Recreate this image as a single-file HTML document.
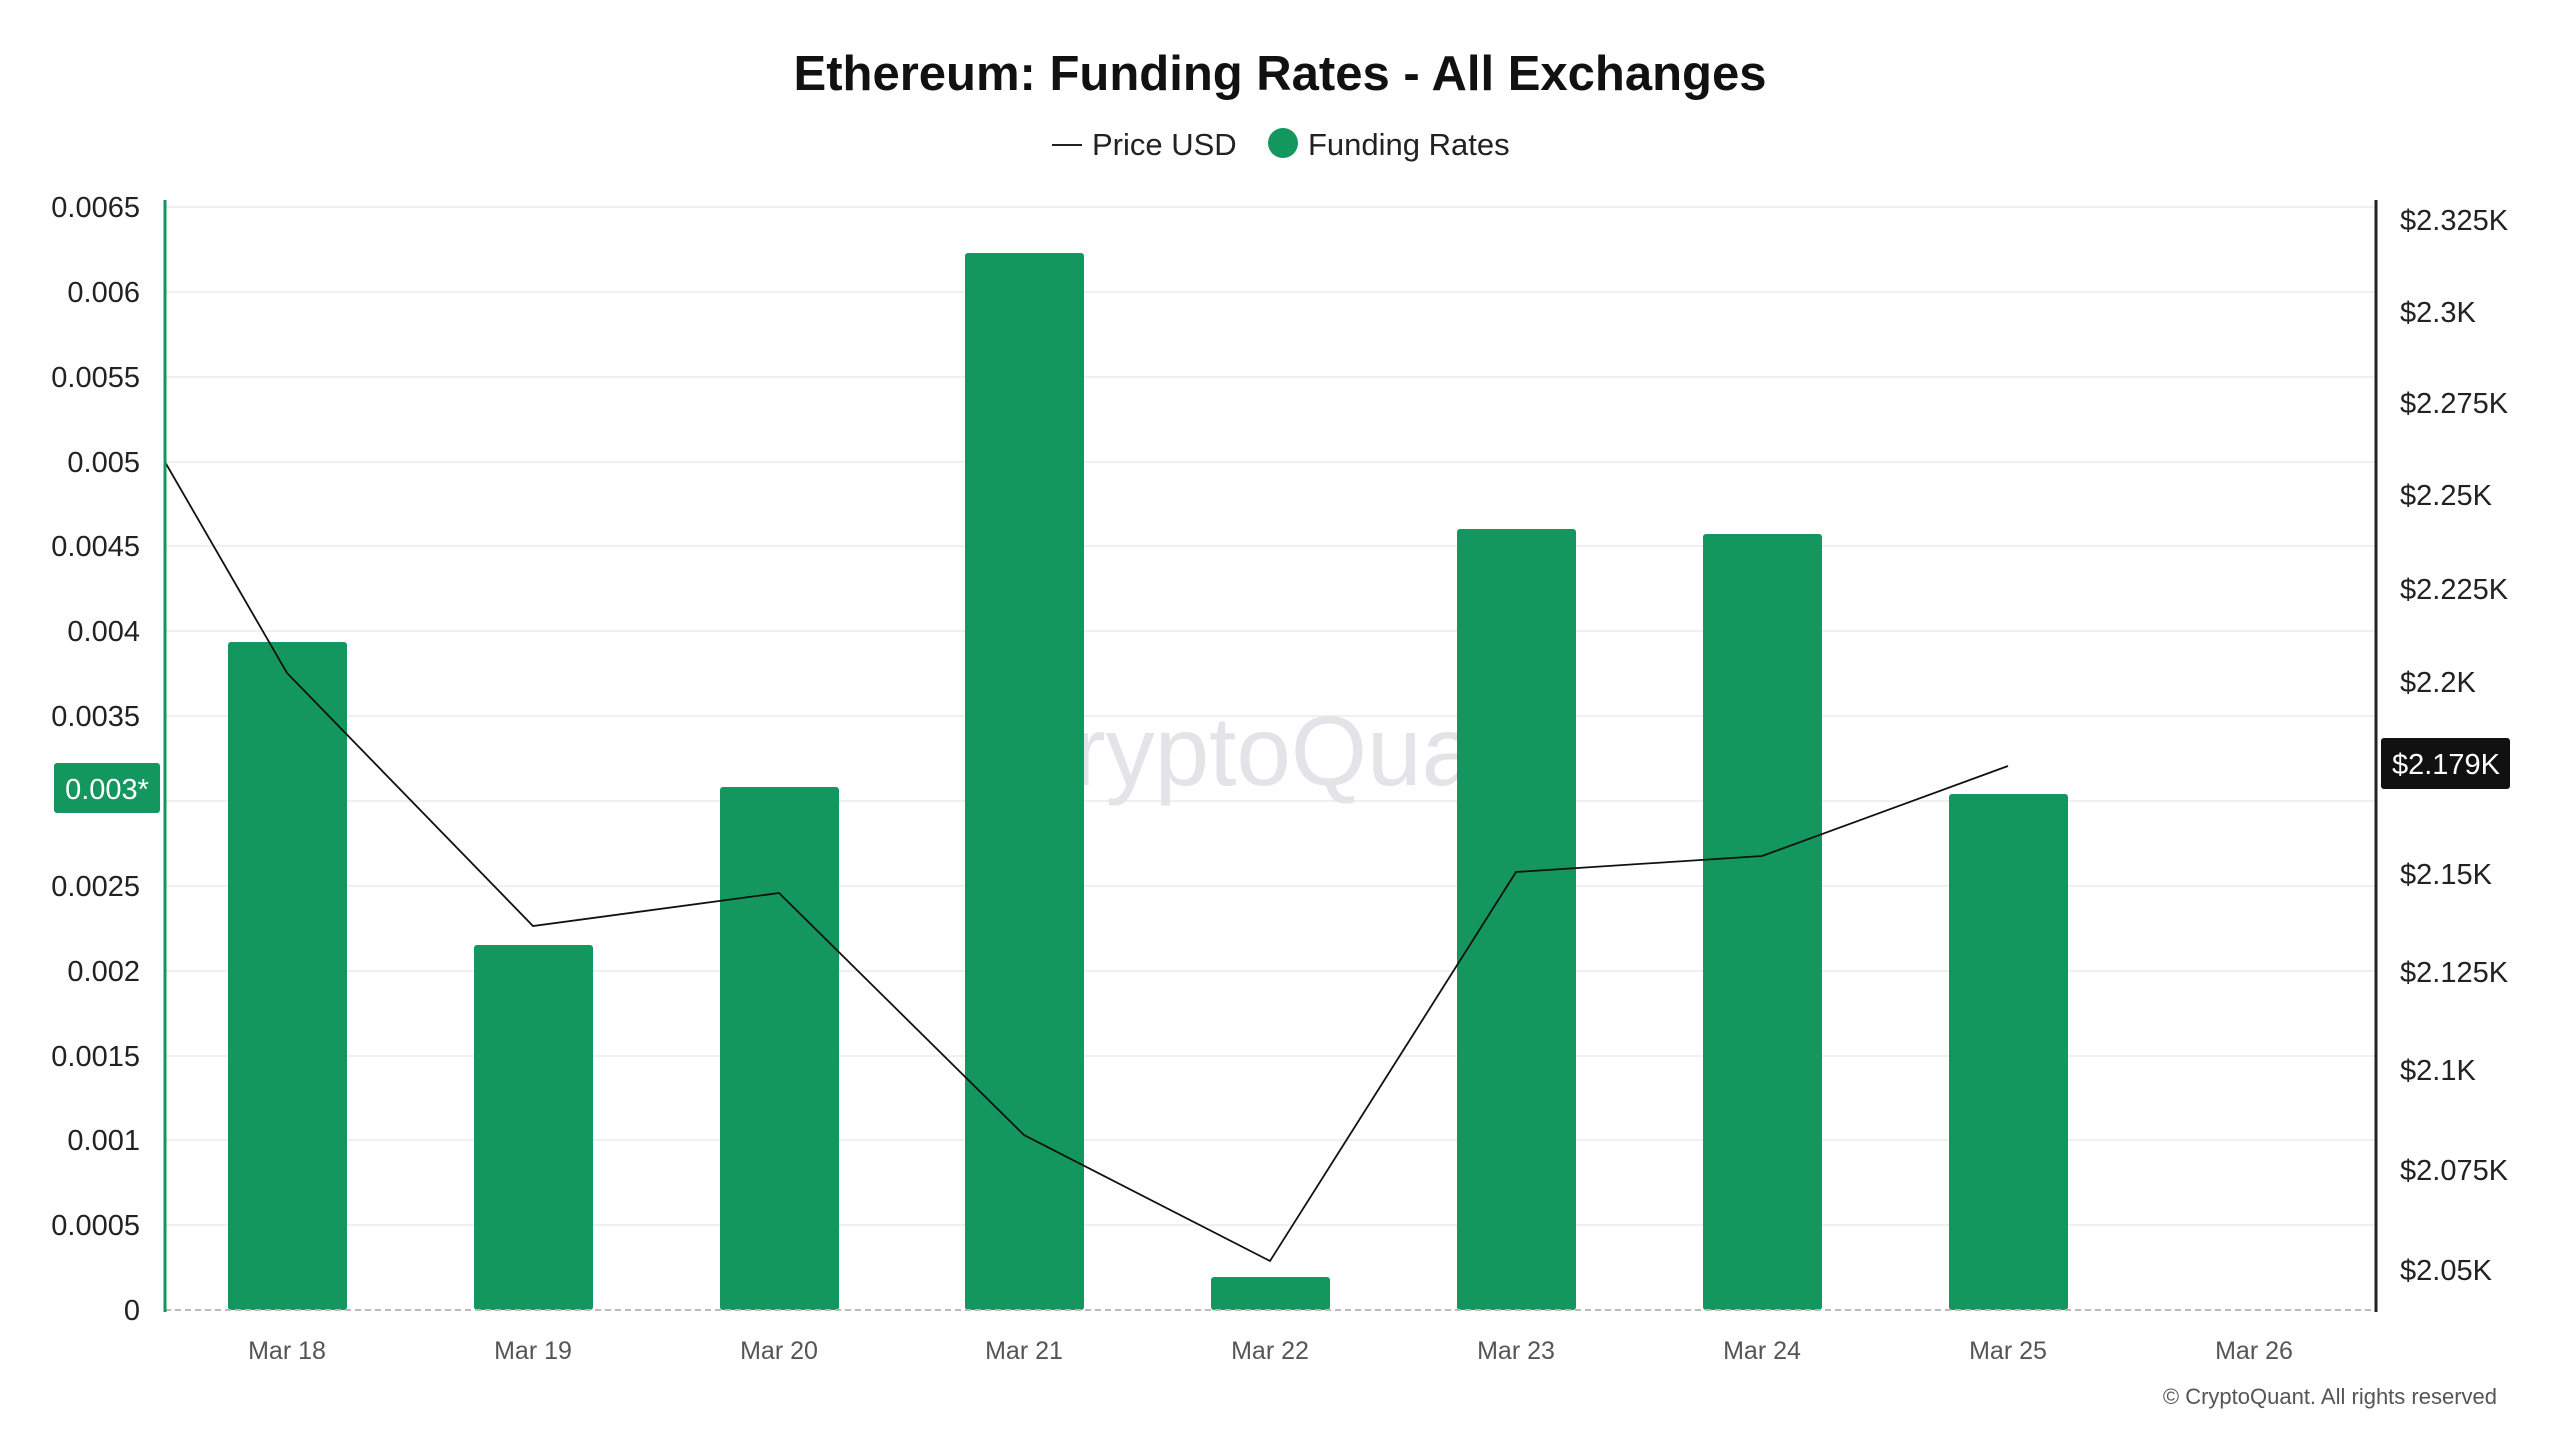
<!DOCTYPE html>
<html><head><meta charset="utf-8"><style>
html,body{margin:0;padding:0;background:#fff;}
svg{display:block;font-family:"Liberation Sans",sans-serif;}
</style></head><body>
<svg width="2560" height="1440" viewBox="0 0 2560 1440" xmlns="http://www.w3.org/2000/svg">
<rect width="2560" height="1440" fill="#fff"/>
<text x="1280" y="90" text-anchor="middle" font-size="49" font-weight="bold" fill="#111">Ethereum: Funding Rates - All Exchanges</text>
<line x1="1052" y1="145" x2="1082" y2="145" stroke="#222" stroke-width="2"/>
<text x="1092" y="155" font-size="31" fill="#222">Price USD</text>
<circle cx="1283" cy="143" r="15" fill="#14975e"/>
<text x="1308" y="155" font-size="31" fill="#222">Funding Rates</text>
<g stroke="#f0f0f0" stroke-width="2">
<line x1="165" x2="2376" y1="207" y2="207"/><line x1="165" x2="2376" y1="292" y2="292"/><line x1="165" x2="2376" y1="377" y2="377"/><line x1="165" x2="2376" y1="462" y2="462"/><line x1="165" x2="2376" y1="546" y2="546"/><line x1="165" x2="2376" y1="631" y2="631"/><line x1="165" x2="2376" y1="716" y2="716"/><line x1="165" x2="2376" y1="801" y2="801"/><line x1="165" x2="2376" y1="886" y2="886"/><line x1="165" x2="2376" y1="971" y2="971"/><line x1="165" x2="2376" y1="1056" y2="1056"/><line x1="165" x2="2376" y1="1140" y2="1140"/><line x1="165" x2="2376" y1="1225" y2="1225"/>
</g>
<text x="1280" y="785" text-anchor="middle" font-size="98" fill="#e3e3e8">CryptoQuant</text>
<g fill="#14975e">
<rect x="228" y="642" width="119" height="668" rx="3"/>
<rect x="474" y="945" width="119" height="365" rx="3"/>
<rect x="720" y="787" width="119" height="523" rx="3"/>
<rect x="965" y="253" width="119" height="1057" rx="3"/>
<rect x="1211" y="1277" width="119" height="33" rx="3"/>
<rect x="1457" y="529" width="119" height="781" rx="3"/>
<rect x="1703" y="534" width="119" height="776" rx="3"/>
<rect x="1949" y="794" width="119" height="516" rx="3"/>
</g>
<polyline points="165,462 287,673 533,926 779,893 1024,1135 1270,1261 1516,872 1762,856 2008,766" fill="none" stroke="#111" stroke-width="1.8"/>
<line x1="165" y1="1310" x2="2376" y2="1310" stroke="#bbb" stroke-width="2" stroke-dasharray="6,4"/>
<line x1="165" y1="200" x2="165" y2="1312" stroke="#14975e" stroke-width="3"/>
<line x1="2376" y1="200" x2="2376" y2="1312" stroke="#222" stroke-width="3"/>
<g font-size="29" fill="#222" text-anchor="end">
<text x="140" y="217">0.0065</text><text x="140" y="302">0.006</text><text x="140" y="387">0.0055</text><text x="140" y="472">0.005</text><text x="140" y="556">0.0045</text><text x="140" y="641">0.004</text><text x="140" y="726">0.0035</text><text x="140" y="896">0.0025</text><text x="140" y="981">0.002</text><text x="140" y="1066">0.0015</text><text x="140" y="1150">0.001</text><text x="140" y="1235">0.0005</text><text x="140" y="1320">0</text>
</g>
<rect x="54" y="763" width="106" height="50" rx="3" fill="#14975e"/>
<text x="107" y="799" text-anchor="middle" font-size="29" fill="#fff">0.003*</text>
<g font-size="29" fill="#222">
<text x="2400" y="230">$2.325K</text><text x="2400" y="322">$2.3K</text><text x="2400" y="413">$2.275K</text><text x="2400" y="505">$2.25K</text><text x="2400" y="599">$2.225K</text><text x="2400" y="692">$2.2K</text><text x="2400" y="884">$2.15K</text><text x="2400" y="982">$2.125K</text><text x="2400" y="1080">$2.1K</text><text x="2400" y="1180">$2.075K</text><text x="2400" y="1280">$2.05K</text>
</g>
<rect x="2381" y="738" width="129" height="51" rx="3" fill="#111"/>
<text x="2446" y="774" text-anchor="middle" font-size="29" fill="#fff">$2.179K</text>
<g font-size="25" fill="#555" text-anchor="middle">
<text x="287" y="1359">Mar 18</text><text x="533" y="1359">Mar 19</text><text x="779" y="1359">Mar 20</text><text x="1024" y="1359">Mar 21</text><text x="1270" y="1359">Mar 22</text><text x="1516" y="1359">Mar 23</text><text x="1762" y="1359">Mar 24</text><text x="2008" y="1359">Mar 25</text><text x="2254" y="1359">Mar 26</text>
</g>
<text x="2497" y="1404" text-anchor="end" font-size="22" fill="#555">© CryptoQuant. All rights reserved</text>
</svg>
</body></html>
